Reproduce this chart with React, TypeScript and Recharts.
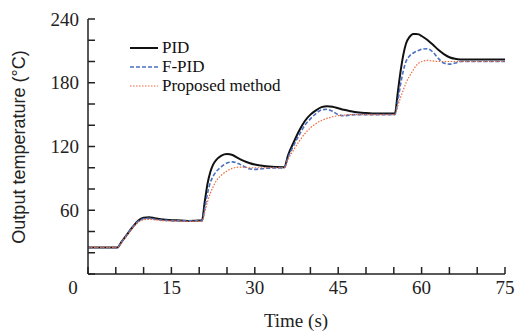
import { LineChart, Line, XAxis, YAxis, Legend } from 'recharts';

const times = [
  0, 5.3, 6, 7, 8, 9, 10, 11, 12, 14, 16, 18, 20.5, 21, 21.5, 22, 22.5, 23, 24, 25,
  26, 27, 28, 29, 30, 32, 35.3, 36, 37, 38, 39, 40, 41, 42, 43, 44, 45, 46, 47, 48,
  50, 52, 55.2, 55.7, 56.2, 56.7, 57.2, 57.8, 58.5, 59, 59.5, 60, 61, 62, 63, 64, 65, 66, 67, 68,
  70, 75,
];

const pid = [
  25, 25, 30, 37, 44, 50, 53, 53.5, 52.5, 51, 50.5, 50, 50.5, 68, 85, 96, 103, 107, 111.5, 113,
  112, 109, 106.5, 104.5, 103, 101.5, 100.5, 112, 124, 135, 144, 150, 154, 157, 158, 157.5, 156, 154.5, 153.5, 152.5,
  151.5, 151, 151, 170, 190, 206, 217, 223, 226, 226, 225.5, 224, 220.5, 216, 211, 207, 204, 202.5, 202, 202,
  202, 202,
];

const fpid = [
  25, 25, 30, 37, 44, 49.5, 52, 52.5, 51.5, 50.5, 50, 50, 50, 62, 76, 86, 92, 96, 101, 104.5,
  105.5, 104, 101.5, 99, 98.5, 99.5, 100, 110, 121, 131, 140, 146, 151, 154.5, 155, 153, 150, 149, 149.5, 150,
  150, 150, 150, 162, 178, 191, 200, 205, 208, 209.5, 210.5, 211.5, 212, 209, 203, 198.5, 197.5, 198.5, 200, 200,
  200, 200,
];

const proposed = [
  25, 25, 29.5, 36, 43, 48.5, 51, 51.5, 51, 50, 50, 49.5, 49.5, 58, 68, 76, 82, 87, 93, 97,
  99.5, 100.5, 100.5, 100, 100, 100, 100, 108, 117, 125, 132, 137.5, 141.5, 144.5, 146.5, 148, 149, 149.5, 150, 150,
  150, 150, 150, 158, 166, 173, 180, 186, 192, 196, 198.5, 200, 201, 200.5, 200, 200, 200, 200, 200, 200,
  200, 200,
];

const seriesNames = ['PID', 'F-PID', 'Proposed method'];
const xTicks = [0, 5, 10, 15, 20, 25, 30, 35, 40, 45, 50, 55, 60, 65, 70, 75];
const yTicks = [0, 20, 40, 60, 80, 100, 120, 140, 160, 180, 200, 220, 240];

const data = times.map((t, i) => ({ t, pid: pid[i], fpid: fpid[i], proposed: proposed[i] }));

const serif = '"Liberation Serif", "Times New Roman", serif';

const XTick = (props: any) => {
  const { x, y, payload } = props;
  const v = payload.value;
  if (v % 15 !== 0) return <g />;
  return (
    <text x={v === 0 ? x - 15 : x} y={y} dy="0.71em" textAnchor="middle" fontFamily={serif} fontSize={19} fill="#222">
      {v}
    </text>
  );
};

const YTick = (props: any) => {
  const { x, y, payload } = props;
  const v = payload.value;
  if (v === 0 || v % 60 !== 0) return <g />;
  return (
    <text x={x} y={y} dy="0.355em" textAnchor="end" fontFamily={serif} fontSize={19} fill="#222">
      {v}
    </text>
  );
};

// legend rows in the order of the original figure
const LegendBox = (props: any) => {
  const items = [...(props.payload || [])].sort(
    (a: any, b: any) => seriesNames.indexOf(a.value) - seriesNames.indexOf(b.value)
  );
  return (
    <div style={{ fontFamily: serif, fontSize: 17, color: '#111' }}>
      {items.map((p: any) => (
        <div key={p.value} style={{ display: 'flex', alignItems: 'center', height: 19 }}>
          <svg width={28} height={6} style={{ marginRight: 4 }}>
            <line
              x1={0}
              y1={3}
              x2={28}
              y2={3}
              stroke={p.color}
              strokeWidth={p.payload.strokeWidth}
              strokeDasharray={p.payload.strokeDasharray}
            />
          </svg>
          <span style={{ display: 'inline-block', height: 19, lineHeight: '19px', whiteSpace: 'nowrap' }}>
            {p.value}
          </span>
        </div>
      ))}
    </div>
  );
};

export default function App() {
  return (
    <div style={{ position: 'absolute', left: 0, top: 0, background: '#fff' }}>
      <LineChart width={519} height={332} data={data} margin={{ top: 19, right: 14, left: 28, bottom: 28 }}>
        <XAxis
          dataKey="t"
          type="number"
          domain={[0, 75]}
          ticks={xTicks}
          interval={0}
          tickSize={-7}
          tickMargin={14}
          height={30}
          tick={<XTick />}
          axisLine={{ stroke: '#222', strokeWidth: 1.5 }}
          tickLine={{ stroke: '#222', strokeWidth: 1.5 }}
          label={{
            content: () => (
              <text x={296} y={327} textAnchor="middle" fontFamily={serif} fontSize={19} fill="#222">
                Time (s)
              </text>
            ),
          }}
        />
        <XAxis xAxisId="top" orientation="top" dataKey="t" type="number" domain={[0, 75]} height={0} tick={false} tickLine={false} axisLine={{ stroke: '#222', strokeWidth: 1.5 }} />
        <YAxis
          type="number"
          domain={[0, 240]}
          ticks={yTicks}
          interval={0}
          tickSize={-7}
          tickMargin={16}
          width={60}
          tick={<YTick />}
          axisLine={{ stroke: '#222', strokeWidth: 1.5 }}
          tickLine={{ stroke: '#222', strokeWidth: 1.5 }}
          label={{
            content: () => (
              <text
                x={19}
                y={147}
                transform="rotate(-90 19 147)"
                textAnchor="middle"
                dominantBaseline="central"
                fontFamily='"Liberation Sans", Arial, sans-serif'
                fontSize={18}
                fill="#222"
              >
                Output temperature (°C)
              </text>
            ),
          }}
        />
        <YAxis yAxisId="right" orientation="right" type="number" domain={[0, 240]} width={0} tick={false} tickLine={false} axisLine={{ stroke: '#222', strokeWidth: 1.5 }} />
        <Legend
          layout="vertical"
          align="center"
          verticalAlign="middle"
          content={<LegendBox />}
          wrapperStyle={{ left: 130, top: 38, width: 'auto' }}
        />
        <Line type="monotone" dataKey="pid" name="PID" stroke="#111" strokeWidth={2} dot={false} isAnimationActive={false} />
        <Line type="monotone" dataKey="fpid" name="F-PID" stroke="#4a6fc0" strokeWidth={1.6} strokeDasharray="4 2" dot={false} isAnimationActive={false} />
        <Line type="monotone" dataKey="proposed" name="Proposed method" stroke="#ee6a3a" strokeWidth={1.2} strokeDasharray="1.5 1.5" dot={false} isAnimationActive={false} />
      </LineChart>
    </div>
  );
}
